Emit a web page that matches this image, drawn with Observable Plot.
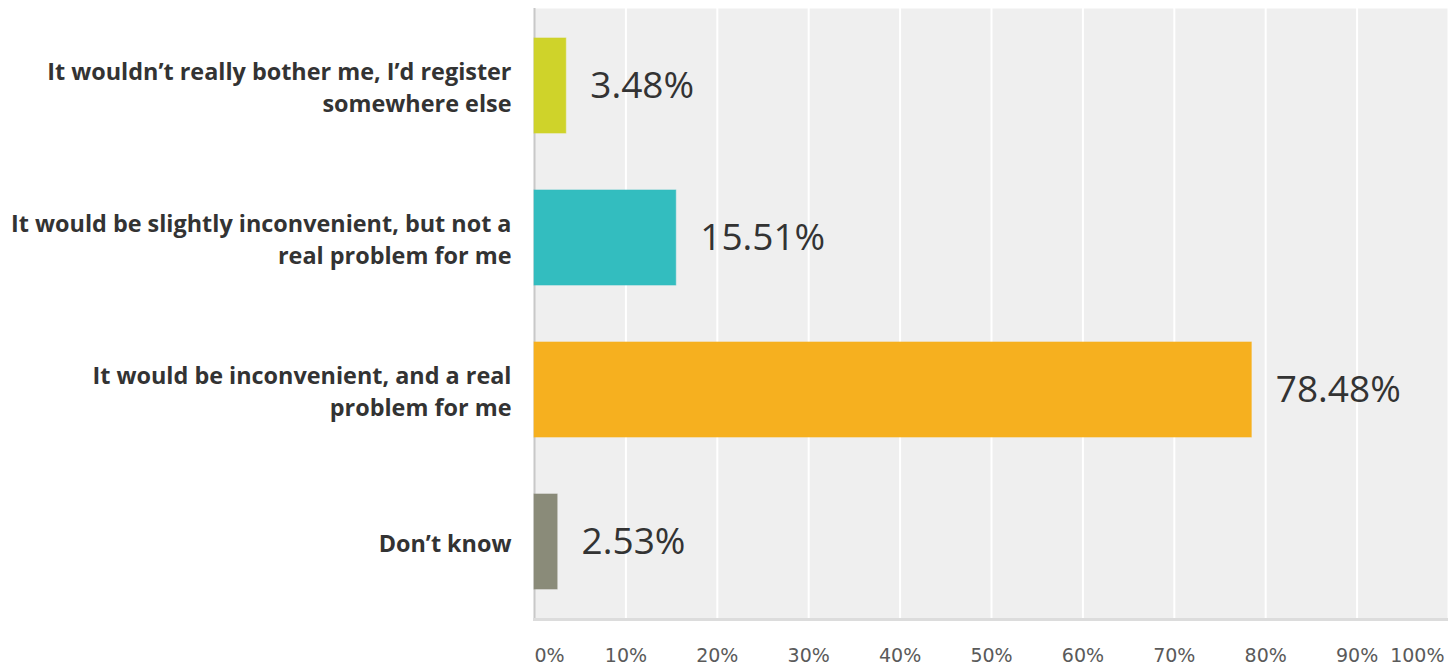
<!DOCTYPE html>
<html>
<head>
<meta charset="utf-8">
<script src="https://cdn.jsdelivr.net/npm/d3@7"></script>
<script src="https://cdn.jsdelivr.net/npm/@observablehq/plot@0.6"></script>
<style>
  html, body { margin: 0; padding: 0; background: #ffffff; }
  #chart svg { display: block; }
</style>
</head>
<body>
<div id="chart"></div>
<script>
const categories = [
  "It wouldn’t really bother me, I’d register\nsomewhere else",
  "It would be slightly inconvenient, but not a\nreal problem for me",
  "It would be inconvenient, and a real\nproblem for me",
  "Don’t know"
];
const values = [3.48, 15.51, 78.48, 2.53];
const barColors = ["#cfd32a", "#33bdbf", "#f6b01f", "#8a8b79"];
const tickValues = [0, 10, 20, 30, 40, 50, 60, 70, 80, 90, 100];
const tickLabels = ["0%", "10%", "20%", "30%", "40%", "50%", "60%", "70%", "80%", "90%", "100%"];

const data = categories.map((c, i) => ({cat: c, value: values[i], color: barColors[i]}));
const ticks = tickValues.map((v, i) => ({v, label: tickLabels[i]}));
const tickStyle = {x: "v", text: "label", frameAnchor: "bottom", dy: 42,
  fontSize: 19, fill: "#5a5a5a", fontFamily: "'DejaVu Sans', sans-serif"};

const chart = Plot.plot({
  width: 1448,
  height: 664,
  marginLeft: 534,
  marginRight: 0,
  marginTop: 8,
  marginBottom: 45,
  x: {domain: [0, 100], axis: null},
  y: {domain: categories, axis: null, paddingInner: 0.378, paddingOuter: 0.189},
  style: {background: "#ffffff"},
  marks: [
    Plot.frame({fill: "#efefef", stroke: null}),
    Plot.ruleX(tickValues.slice(1), {stroke: "#ffffff", strokeWidth: 2}),
    Plot.ruleX([0], {stroke: "#c8c8c8", strokeWidth: 2}),
    Plot.frame({anchor: "bottom", stroke: "#dcdcdc", strokeWidth: 3}),
    Plot.barX(data, {x: "value", y: "cat", fill: "color", stroke: "color", strokeOpacity: 0.6}),
    Plot.text(data, {
      x: "value", y: "cat", text: d => d.value.toFixed(2) + "%",
      textAnchor: "start", dx: 24, fontSize: 37, fill: "#333333",
      fontFamily: "'Open Sans', sans-serif"
    }),
    Plot.text(data, {
      x: 0, y: "cat", text: "cat", textAnchor: "end", dx: -23,
      fontSize: 23.4, fontWeight: "bold", fill: "#333333", lineHeight: 1.37,
      fontFamily: "'Open Sans', sans-serif"
    }),
    Plot.text(ticks.filter(d => d.v === 0), {...tickStyle, textAnchor: "start"}),
    Plot.text(ticks.filter(d => d.v > 0 && d.v < 100), {...tickStyle, textAnchor: "middle"}),
    Plot.text(ticks.filter(d => d.v === 100), {...tickStyle, textAnchor: "end", dx: -4})
  ]
});
document.getElementById("chart").appendChild(chart);
</script>
</body>
</html>
